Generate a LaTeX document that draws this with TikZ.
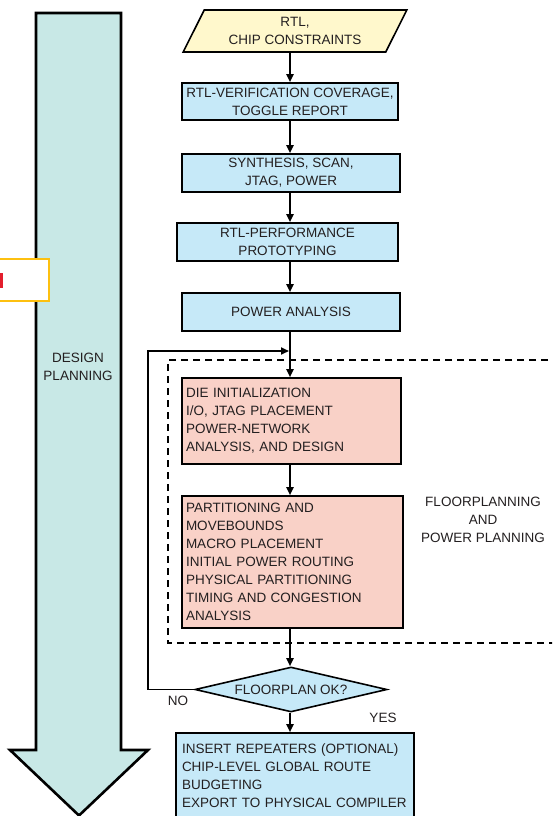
\documentclass[tikz,border=0pt]{standalone}
\usepackage{fontspec}
\setmainfont{Liberation Sans}
\usetikzlibrary{shapes.geometric,arrows.meta}
\definecolor{arrowteal}{HTML}{C8E8E6}
\definecolor{boxblue}{HTML}{C6E9F8}
\definecolor{boxpink}{HTML}{F9D1C7}
\definecolor{boxyellow}{HTML}{FFF8CC}
\definecolor{tagorange}{HTML}{FDC010}
\definecolor{tagred}{HTML}{E31E2D}
\definecolor{inkgray}{HTML}{231F20}
\begin{document}
\begin{tikzpicture}[x=1pt,y=-1pt,
    every node/.style={font=\fontsize{13.5}{18}\selectfont, text=inkgray},
    flowbox/.style={draw, line width=1.6pt, rectangle, inner sep=3pt, align=center},
    stepblue/.style={flowbox, fill=boxblue},
    steppink/.style={flowbox, fill=boxpink, inner xsep=4pt, align=left},
    flowarrow/.style={line width=1.8pt, -{Triangle[length=8pt,width=7pt]}}]
        \useasboundingbox (0,0) rectangle (552,816);
        \clip (0,0) rectangle (552,816);

        % Design planning arrow
        \draw[line width=2.6pt, fill=arrowteal, line join=miter]
          (36,13) -- (121,13) -- (121,750) -- (148,750) -- (79,815.5)
          -- (10,750) -- (36,750) -- cycle;
        \node[align=center] (planning) at (78,367) {DESIGN\\PLANNING};

        % Tag (cut off at the left)
        \draw[line width=2pt, tagorange, fill=white] (-5,258.5) rectangle (48.5,300.5);
        \fill[tagred] (-1,273) rectangle (3,288);

        % Floorplanning region (dashed)
        \draw[line width=1.5pt, dash pattern=on 7pt off 5pt]
          (560,360) -| (168,643) -- (560,643);
        \node[align=center] (fplabel) at (483,520) {FLOORPLANNING\\AND\\POWER PLANNING};

        % Flow
        \node[draw, line width=1.6pt, fill=boxyellow, trapezium,
          trapezium left angle=62, trapezium right angle=118, trapezium stretches=true,
          minimum width=224pt, minimum height=42pt, inner sep=1pt, align=center]
          (rtl) at (295,31) {RTL,\\CHIP CONSTRAINTS};
        \node[stepblue, minimum width=216pt, minimum height=37pt] (coverage) at (290,101.5)
          {RTL-VERIFICATION COVERAGE,\\TOGGLE REPORT};
        \node[stepblue, minimum width=218pt, minimum height=38pt] (synthesis) at (291,173)
          {SYNTHESIS, SCAN,\\JTAG, POWER};
        \node[stepblue, minimum width=221pt, minimum height=38pt] (prototyping) at (287.5,242)
          {RTL-PERFORMANCE\\PROTOTYPING};
        \node[stepblue, minimum width=218pt, minimum height=38pt] (poweran) at (291,312)
          {POWER ANALYSIS};
        \node[steppink, text width=211pt, minimum height=86pt] (dieinit) at (291.5,421)
          {DIE INITIALIZATION\\I/O, JTAG PLACEMENT\\POWER-NETWORK\\ANALYSIS, AND DESIGN};
        \node[steppink, text width=213pt, minimum height=132pt] (partition) at (292.5,562)
          {PARTITIONING AND\\MOVEBOUNDS\\MACRO PLACEMENT\\INITIAL POWER ROUTING\\PHYSICAL PARTITIONING\\TIMING AND CONGESTION\\ANALYSIS};
        \node[draw, line width=1.6pt, fill=boxblue, diamond, aspect=4.27, inner sep=0pt,
          minimum width=192pt, minimum height=45pt] (fpok) at (291,689.5) {FLOORPLAN OK?};
        \node[steppink, fill=boxblue, inner xsep=6pt, text width=226pt, minimum height=85pt]
          (export) at (295,775.5)
          {INSERT REPEATERS (OPTIONAL)\\CHIP-LEVEL GLOBAL ROUTE\\BUDGETING\\EXPORT TO PHYSICAL COMPILER};

        % Connectors
        \coordinate (col) at (290,0);
        \draw[flowarrow] (col |- rtl.south) -- (col |- coverage.north);
        \draw[flowarrow] (col |- coverage.south) -- (col |- synthesis.north);
        \draw[flowarrow] (col |- synthesis.south) -- (col |- prototyping.north);
        \draw[flowarrow] (col |- prototyping.south) -- (col |- poweran.north);
        \draw[flowarrow] (col |- poweran.south) -- (col |- dieinit.north);
        \draw[flowarrow] (col |- dieinit.south) -- (col |- partition.north);
        \draw[flowarrow] (col |- partition.south) -- (col |- fpok.north);
        \draw[flowarrow] (col |- fpok.south) -- (col |- export.north);

        % Loop back
        \coordinate (loopcorner) at (148,351);
        \coordinate (loopjoin) at (289,351);
        \draw[flowarrow] (fpok.west) -| (loopcorner) -- (loopjoin);
        \node (no) at (178,701) {NO};
        \node (yes) at (383,718) {YES};
      \end{tikzpicture}
\end{document}
